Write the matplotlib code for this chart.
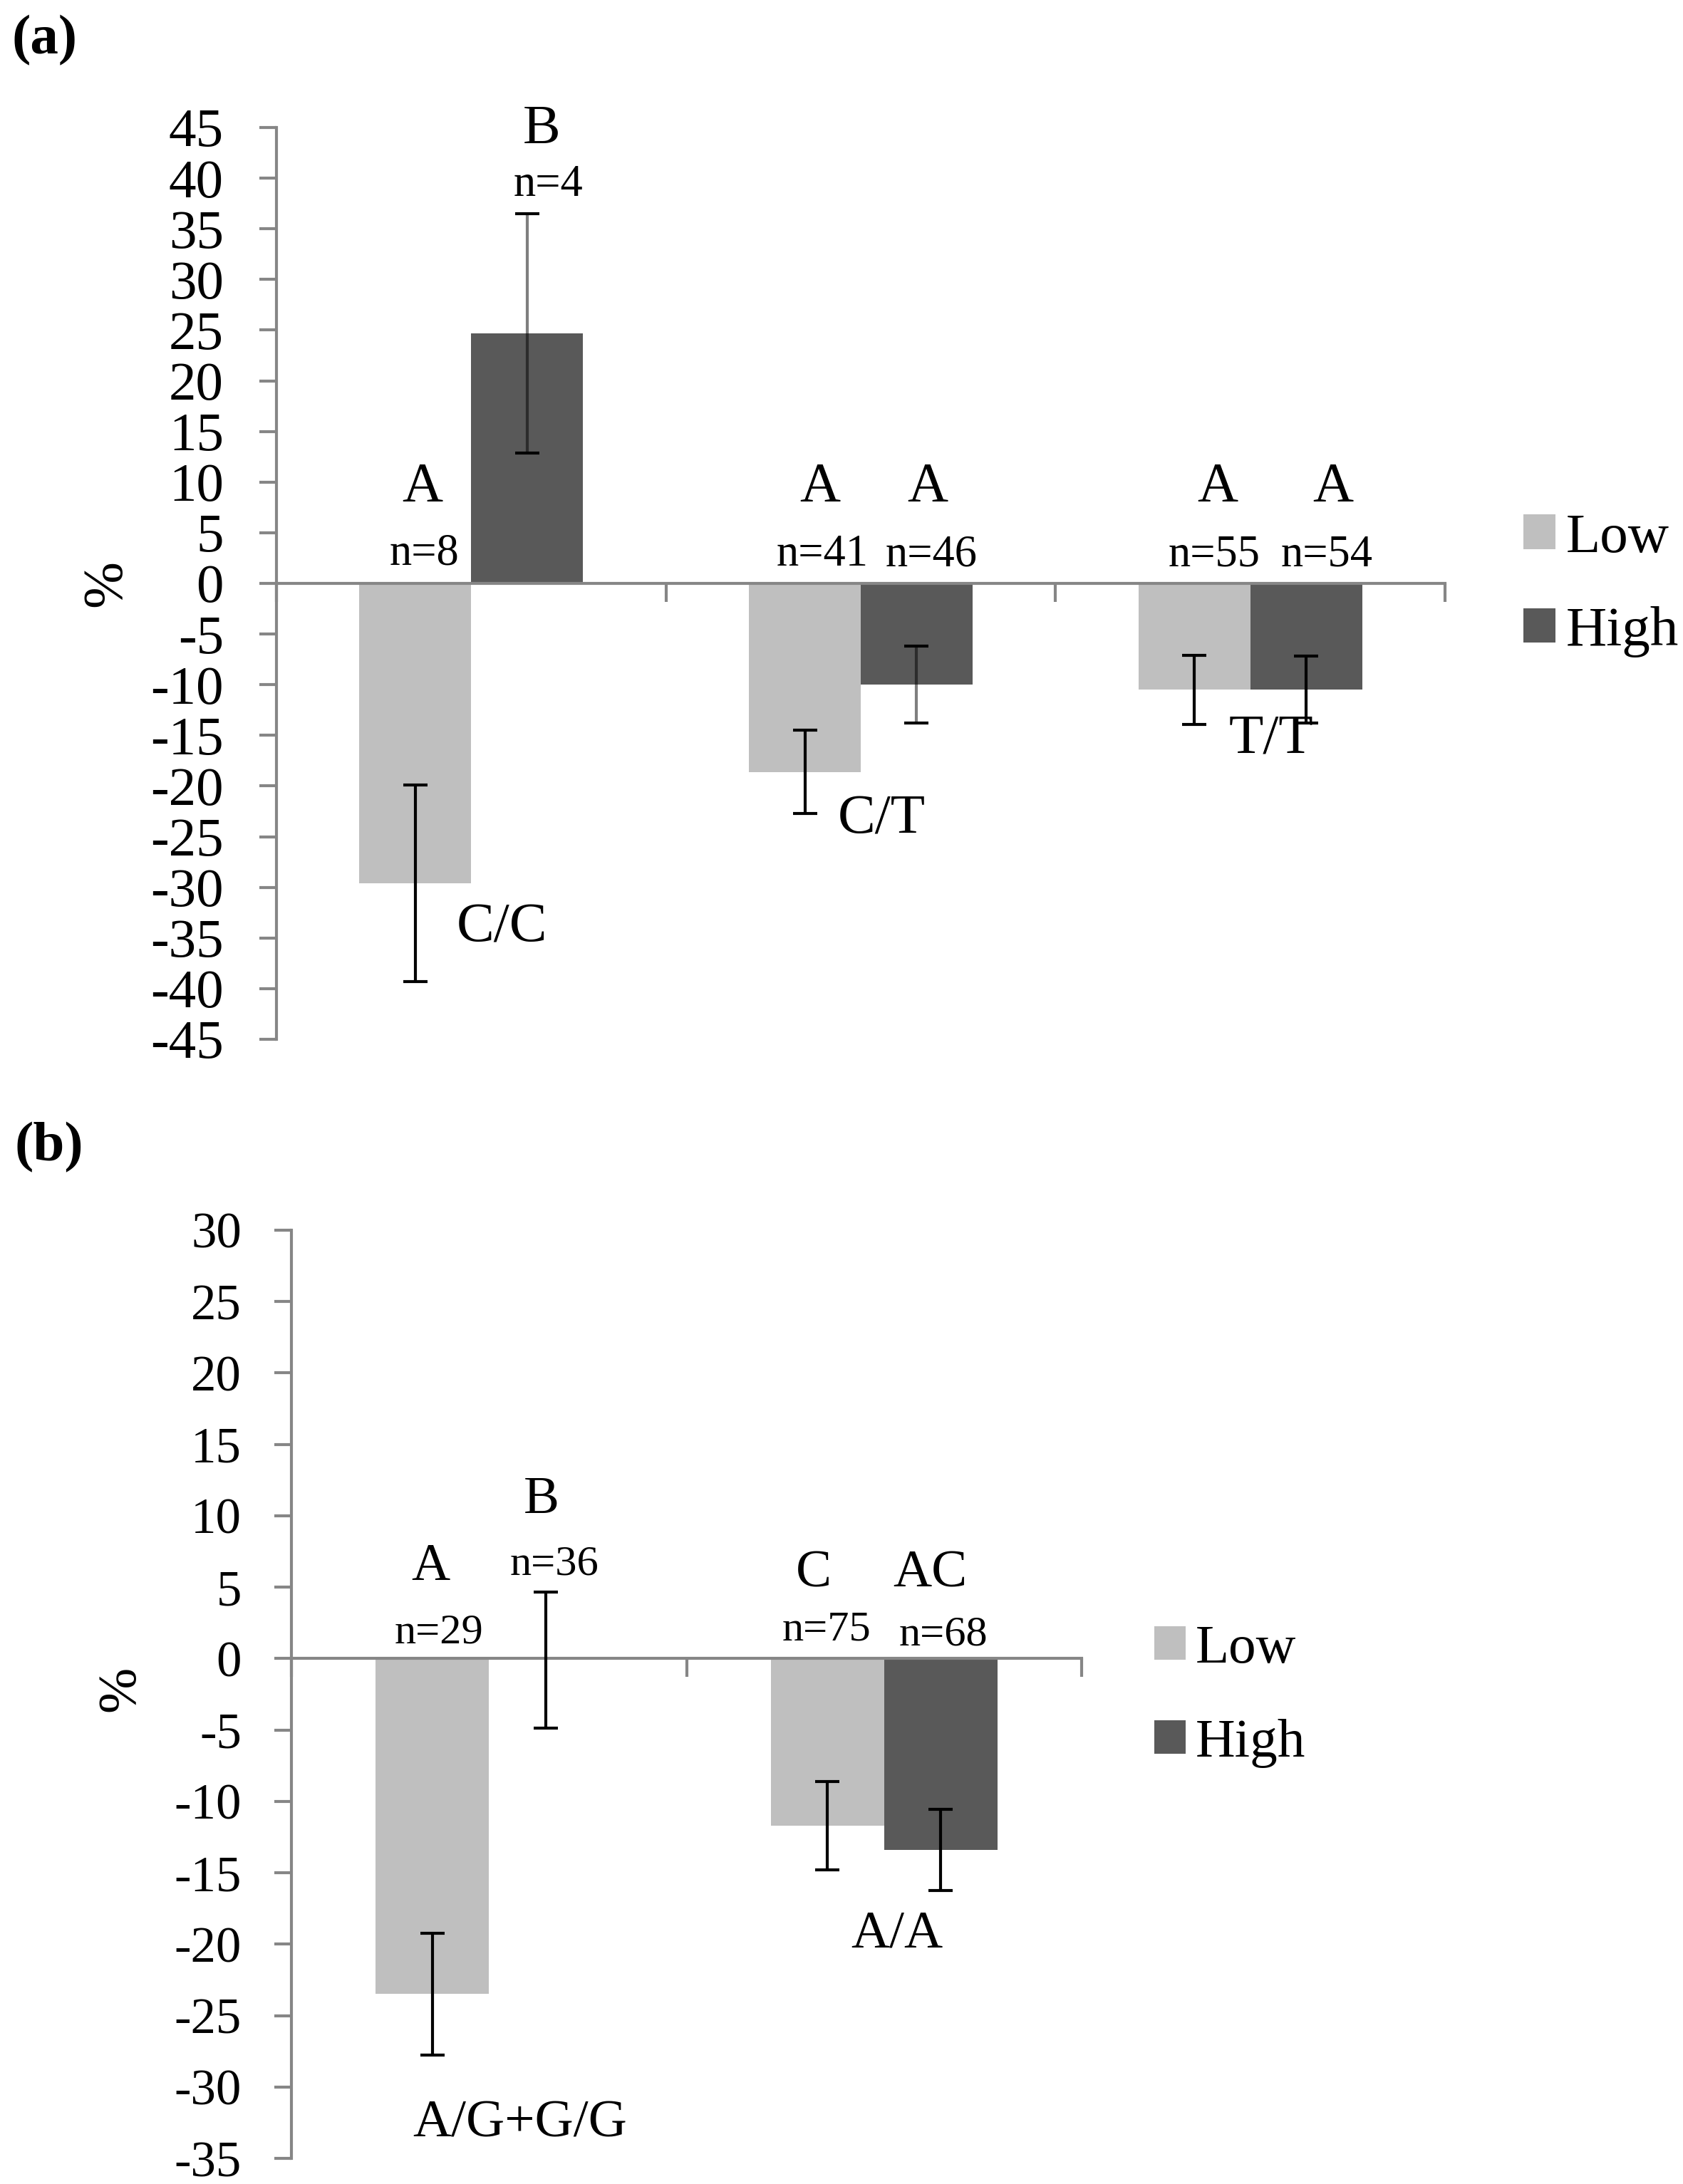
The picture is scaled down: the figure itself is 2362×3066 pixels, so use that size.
import matplotlib
matplotlib.use("Agg")
import matplotlib.pyplot as plt
import matplotlib.ticker as ticker

plt.rcParams['font.family'] = ['Liberation Serif', 'DejaVu Serif']
plt.rcParams['axes.unicode_minus'] = False

# Panel (a)
a_genotypes = ["C/C", "C/T", "T/T"]
a_low = [-29.6, -18.6, -10.5]
a_high = [24.7, -10.0, -10.5]
a_low_err = [9.7, 4.1, 3.4]
a_high_err = [11.8, 3.8, 3.3]
a_low_n = [8, 41, 55]
a_high_n = [4, 46, 54]
a_low_letters = ["A", "A", "A"]
a_high_letters = ["B", "A", "A"]

# Panel (b)
b_genotypes = ["A/G+G/G", "A/A"]
b_low = [-23.5, -11.7]
b_high = [-0.1, -13.4]
b_low_err = [4.25, 3.1]
b_high_err = [4.75, 2.85]
b_low_n = [29, 75]
b_high_n = [36, 68]
b_low_letters = ["A", "C"]
b_high_letters = ["B", "AC"]

series_labels = ["Low", "High"]

# hand-placed annotation positions (x in group units, y in %)
a_low_letter_pos = [(-0.125, 9.5), (0.896, 9.5), (1.916, 9.5)]
a_high_letter_pos = [(0.18, 44.8), (1.172, 9.5), (2.212, 9.5)]
a_low_n_pos = [(-0.121, 2.9), (0.901, 2.8), (1.908, 2.8)]
a_high_n_pos = [(0.198, 39.3), (1.181, 2.8), (2.196, 2.8)]
a_geno_pos = [(0.079, -34.0), (1.053, -23.3), (2.053, -15.4)]

b_low_letter_pos = [(-0.148, 6.4), (0.821, 5.9)]
b_high_letter_pos = [(0.132, 11.1), (1.116, 5.9)]
b_low_n_pos = [(-0.127, 1.8), (0.854, 2.0)]
b_high_n_pos = [(0.166, 6.6), (1.15, 1.65)]
b_geno_pos = [(0.078, -32.6), (1.033, -19.3)]

LOW_C = '#BFBFBF'
HIGH_C = '#595959'
AXIS_C = '#868686'
BAR_W = 0.287

W, H = 2362, 3066
fig = plt.figure(figsize=(W / 300, H / 300), dpi=300)


def px_axes(l, r, t, b):
    return fig.add_axes([l / W, 1 - b / H, (r - l) / W, (b - t) / H])


def draw_panel(ax, cats, low, high, low_err, high_err, ylim, fs_tick, fs_big, fs_n,
               faded, low_let, high_let, low_n, high_n,
               low_let_pos, high_let_pos, low_n_pos, high_n_pos, geno_pos,
               tick_pad, leg_anchor, leg_fs, leg_spacing):
    x = list(range(len(cats)))
    xl = [i - BAR_W / 2 for i in x]
    xh = [i + BAR_W / 2 for i in x]
    bl = ax.bar(xl, low, BAR_W, color=LOW_C, label=series_labels[0], zorder=2)
    bh = ax.bar(xh, high, BAR_W, color=HIGH_C, label=series_labels[1], zorder=2)

    for xs, vals, errs, kind in [(xl, low, low_err, 'low'), (xh, high, high_err, 'high')]:
        for j in range(len(xs)):
            line, caps, bars = ax.errorbar(xs[j], vals[j], yerr=errs[j], fmt='none',
                                           ecolor='black', elinewidth=1.0,
                                           capsize=4, capthick=1.0, zorder=3)
            if (kind, j) in faded:
                bars[0].set_color((0, 0, 0, 0.5))

    ax.set_xlim(-0.5, len(cats) - 0.5)
    ax.set_ylim(*ylim)
    ax.yaxis.set_major_locator(ticker.MultipleLocator(5))
    ax.xaxis.set_major_locator(ticker.FixedLocator([i + 0.5 for i in range(-1, len(cats))]))
    ax.xaxis.set_major_formatter(ticker.NullFormatter())

    for s in ['top', 'right']:
        ax.spines[s].set_visible(False)
    ax.spines['bottom'].set_position(('data', 0))
    for s in ['left', 'bottom']:
        ax.spines[s].set_color(AXIS_C)
        ax.spines[s].set_linewidth(1.0)
    ax.tick_params(axis='y', direction='out', length=5.8, width=1.0, color=AXIS_C,
                   labelsize=fs_tick, pad=tick_pad)
    ax.tick_params(axis='x', direction='out', length=6.2, width=1.0, color=AXIS_C)
    ax.set_facecolor('none')

    for t, (px, py) in zip(low_let, low_let_pos):
        ax.text(px, py, t, ha='center', va='center', fontsize=fs_big)
    for t, (px, py) in zip(high_let, high_let_pos):
        ax.text(px, py, t, ha='center', va='center', fontsize=fs_big)
    for n, (px, py) in zip(low_n, low_n_pos):
        ax.text(px, py, f"n={n}", ha='center', va='center', fontsize=fs_n)
    for n, (px, py) in zip(high_n, high_n_pos):
        ax.text(px, py, f"n={n}", ha='center', va='center', fontsize=fs_n)
    for g, (px, py) in zip(cats, geno_pos):
        ax.text(px, py, g, ha='center', va='center', fontsize=fs_big)

    ax.legend(handles=[bl, bh], loc='center left', bbox_to_anchor=leg_anchor,
              frameon=False, fontsize=leg_fs, handlelength=0.57, handleheight=0.57,
              handletextpad=0.18, labelspacing=leg_spacing, borderpad=0,
              borderaxespad=0)


ax_a = px_axes(388, 2028, 179, 1459)
draw_panel(ax_a, a_genotypes, a_low, a_high, a_low_err, a_high_err, (-45, 45),
           18.5, 19, 15, {('high', 0), ('high', 1)},
           a_low_letters, a_high_letters, a_low_n, a_high_n,
           a_low_letter_pos, a_high_letter_pos, a_low_n_pos, a_high_n_pos, a_geno_pos,
           12, (1.067, 0.498), 19, 0.75)
ax_a.text(-0.1457, 0.50, "%", transform=ax_a.transAxes, rotation=90,
          ha='center', va='center', fontsize=19)

ax_b = px_axes(409, 1518, 1727, 3030)
draw_panel(ax_b, b_genotypes, b_low, b_high, b_low_err, b_high_err, (-35, 30),
           17, 18, 14.5, set(),
           b_low_letters, b_high_letters, b_low_n, b_high_n,
           b_low_letter_pos, b_high_letter_pos, b_low_n_pos, b_high_n_pos, b_geno_pos,
           11, (1.092, 0.498), 18.5, 0.82)
ax_b.text(-0.2155, 0.506, "%", transform=ax_b.transAxes, rotation=90,
          ha='center', va='center', fontsize=18.5)

fig.text(17 / W, 1 - 57 / H, "(a)", fontsize=19, fontweight='bold', va='center', ha='left')
fig.text(20 / W, 1 - 1611 / H, "(b)", fontsize=19, fontweight='bold', va='center', ha='left')

fig.savefig("out.png", dpi=300)
